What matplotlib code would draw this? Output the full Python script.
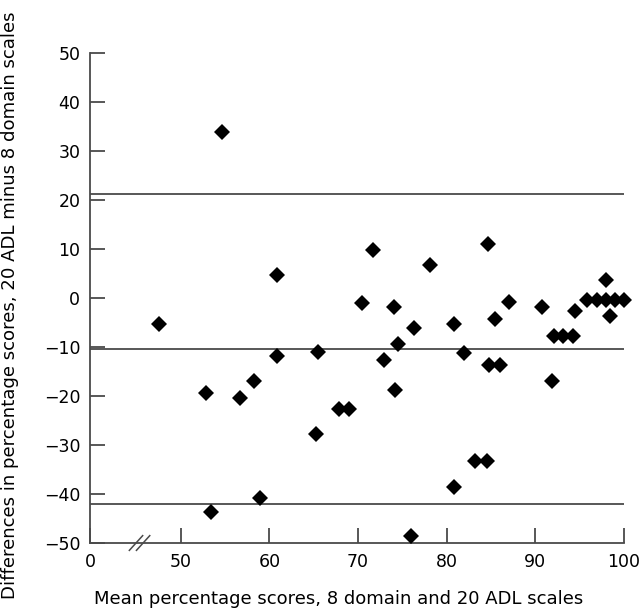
import matplotlib
matplotlib.use("Agg")
import matplotlib.pyplot as plt

mean_scores = [47.5, 52.9, 53.4, 54.6, 56.7, 58.3, 58.9, 60.9, 60.9, 65.3,
               65.5, 67.9, 69.0, 70.4, 71.7, 72.9, 74.1, 74.2, 74.5, 76.0,
               76.3, 78.1, 80.8, 80.8, 82.0, 83.2, 84.5, 84.65, 84.8, 85.4,
               86.0, 87.05, 90.8, 91.9, 92.05, 93.1, 94.2, 94.5, 95.8, 96.95,
               97.97, 98.0, 98.4, 99.0, 100.0]
differences = [-5.4, -19.5, -43.7, 33.8, -20.4, -17.0, -40.9, 4.6, -11.9, -27.7,
               -11.1, -22.7, -22.7, -1.0, 9.7, -12.6, -1.9, -18.7, -9.4, -48.6,
               -6.1, 6.6, -5.4, -38.5, -11.2, -33.3, -33.3, 10.9, -13.6, -4.3,
               -13.6, -0.9, -1.9, -17.0, -7.8, -7.8, -7.8, -2.7, -0.5, -0.5,
               -0.5, 3.7, -3.6, -0.5, -0.5]
mean_diff = -10.5
upper_limit = 21.1
lower_limit = -42.1

x_ticks = [50, 60, 70, 80, 90, 100]
y_ticks = [-50, -40, -30, -20, -10, 0, 10, 20, 30, 40, 50]

plt.rcParams['font.family'] = ['DejaVu Sans']

fig = plt.figure(figsize=(6.4, 6.11), dpi=100)
ax = fig.add_axes([90/640, 1-543/611, (624-90)/640, (543-52.7)/611])
xmin = 39.76
ax.set_xlim(xmin, 100)
ax.set_ylim(-50, 50)

line_col = '#4a4a4a'
for yv in [upper_limit, mean_diff, lower_limit]:
    ax.plot([xmin, 100], [yv, yv], color=line_col, lw=1.3, zorder=1)

ax.plot(mean_scores, differences, linestyle='none', marker='D', markersize=8.0,
        color='black', markeredgewidth=0, zorder=3, clip_on=False)

for s in ['top', 'right']:
    ax.spines[s].set_visible(False)
for s in ['left', 'bottom']:
    ax.spines[s].set_color(line_col)
    ax.spines[s].set_linewidth(1.3)

ax.set_xticks([xmin] + x_ticks)
ax.set_xticklabels(['0'] + [str(v) for v in x_ticks])
ax.set_yticks(y_ticks)
ax.set_yticklabels([str(v).replace('-', '\u2212') for v in y_ticks])
ax.tick_params(axis='both', direction='in', length=10.5, width=1.3, color=line_col,
               labelsize=12.5, pad=7)

# axis break marks
for dx in [0, 0.8]:
    x0 = 44.2 + dx
    ax.plot([x0, x0 + 1.5], [-51.5, -48.5], color=line_col, lw=1.1, clip_on=False, zorder=4)

ax.set_xlabel('Mean percentage scores, 8 domain and 20 ADL scales', fontsize=13)
ax.set_ylabel('Differences in percentage scores, 20 ADL minus 8 domain scales', fontsize=13.1)
ax.xaxis.set_label_coords((339 - 90) / 534, (543 - 590) / 490.3)
ax.yaxis.set_label_coords((19 - 90) / 534, (543 - 305) / 490.3)

fig.savefig('out.png', dpi=100, facecolor='white')
